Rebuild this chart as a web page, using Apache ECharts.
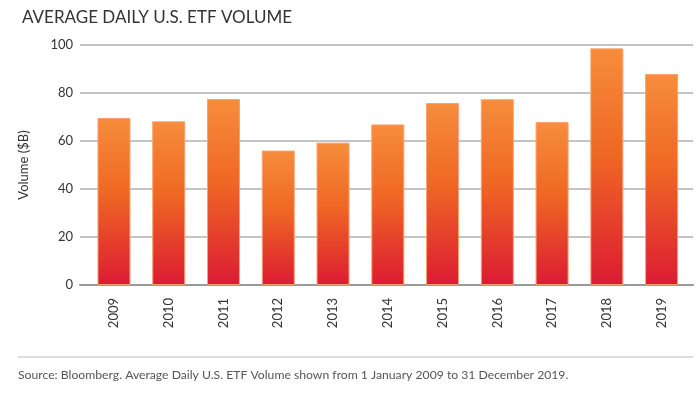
<!DOCTYPE html>
<html>
<head>
<meta charset="utf-8">
<script src="https://cdn.jsdelivr.net/npm/echarts@6/dist/echarts.min.js"></script>
<style>
html,body{margin:0;padding:0;background:#fff;}
#chart{width:700px;height:395px;}
</style>
</head>
<body>
<div id="chart"></div>
<script>
var years = ['2009','2010','2011','2012','2013','2014','2015','2016','2017','2018','2019'];
var volume = [69.6, 68.2, 77.5, 56.0, 59.3, 66.9, 75.8, 77.4, 67.9, 98.6, 87.9];
var yTicks = [0, 20, 40, 60, 80, 100];
var titleText = 'AVERAGE DAILY U.S. ETF VOLUME';
var sourceText = 'Source: Bloomberg. Average Daily U.S. ETF Volume shown from 1 January 2009 to 31 December 2019.';

var chart = echarts.init(document.getElementById('chart'), null, {renderer: 'canvas'});
var fontFam = 'Lato, "Open Sans", sans-serif';
var option = {
  animation: false,
  backgroundColor: '#fff',
  title: {
    text: titleText,
    left: 17, top: 4,
    textStyle: {fontFamily: fontFam, fontSize: 17, fontWeight: 'normal', color: '#333'}
  },
  graphic: [
    {type: 'line', shape: {x1: 18, y1: 357, x2: 693, y2: 357}, style: {stroke: '#dcdcdc', lineWidth: 2}},
    {type: 'text', left: 18, top: 369, style: {text: sourceText, fontFamily: fontFam, fontSize: 12.2, fill: '#555'}}
  ],
  grid: [
    {left: 80, right: 7, top: 45, bottom: 110},
    {left: 86.6, right: 11, top: 45, bottom: 110}
  ],
  xAxis: [
    {gridIndex: 0, type: 'value', min: 0, max: 1, show: true,
     axisLine: {show: true, lineStyle: {color: '#9a9a9a', width: 2}},
     axisTick: {show: false}, axisLabel: {show: false}, splitLine: {show: false}},
    {gridIndex: 1, type: 'category', data: years,
     axisLine: {show: false}, axisTick: {show: false},
     axisLabel: {rotate: 90, margin: 13, fontFamily: fontFam, fontSize: 13, color: '#333'}}
  ],
  yAxis: [
    {gridIndex: 0, type: 'value', min: yTicks[0], max: yTicks[yTicks.length - 1], interval: yTicks[1] - yTicks[0],
     name: 'Volume ($B)', nameLocation: 'middle', nameGap: 50,
     nameTextStyle: {fontFamily: fontFam, fontSize: 13, color: '#333'},
     axisLine: {show: false}, axisTick: {show: false},
     axisLabel: {margin: 7, fontFamily: fontFam, fontSize: 13, color: '#333'},
     splitLine: {show: true, lineStyle: {color: '#b0b0b0', width: 1.5}}},
    {gridIndex: 1, type: 'value', min: yTicks[0], max: yTicks[yTicks.length - 1], show: false}
  ],
  series: [{
    type: 'bar',
    xAxisIndex: 1, yAxisIndex: 1,
    data: volume,
    barWidth: 33,
    itemStyle: {
      color: {
        type: 'linear', x: 0, y: 0, x2: 0, y2: 1,
        colorStops: [
          {offset: 0, color: '#F68D3C'},
          {offset: 0.45, color: '#EF6724'},
          {offset: 1, color: '#DC1B33'}
        ]
      },
      borderColor: '#F9A070', borderWidth: 1
    },
    z: 3
  }]
};
chart.setOption(option);
</script>
</body>
</html>
